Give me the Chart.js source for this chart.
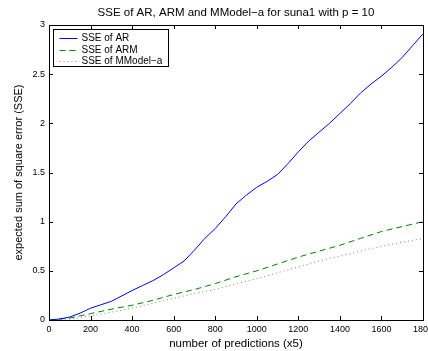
<!DOCTYPE html>
<html>
<head>
<meta charset="utf-8">
<script src="https://cdn.jsdelivr.net/npm/chart.js@4/dist/chart.umd.min.js"></script>
<style>
  html, body { margin: 0; padding: 0; background: #fff; }
  #wrap { width: 428px; height: 351px; }
</style>
</head>
<body>
<div id="wrap"><canvas id="sseChart" width="428" height="351"></canvas></div>
<script>
// number of predictions (x5)
const predFine = [0, 50, 100, 150, 200, 250, 300, 350, 400, 450, 500, 550, 600, 650, 700, 750, 800, 850, 900,
                  950, 1000, 1050, 1100, 1150, 1200, 1250, 1300, 1350, 1400, 1450, 1500, 1550, 1600, 1650, 1700, 1750, 1800];
const sseAR = [0, 0.01, 0.03, 0.07, 0.12, 0.155, 0.19, 0.245, 0.30, 0.35, 0.40, 0.46, 0.53, 0.60, 0.71, 0.83, 0.93, 1.05, 1.18,
               1.27, 1.35, 1.41, 1.48, 1.59, 1.71, 1.82, 1.91, 2.00, 2.10, 2.20, 2.31, 2.40, 2.48, 2.57, 2.67, 2.79, 2.91];

const predCoarse = [0, 100, 200, 300, 400, 500, 600, 700, 800, 900, 1000, 1100, 1200, 1300, 1400, 1500, 1600, 1700, 1800];
const sseARM = [0, 0.02, 0.065, 0.11, 0.15, 0.20, 0.26, 0.31, 0.37, 0.44, 0.50, 0.57, 0.64, 0.70, 0.76, 0.83, 0.90, 0.95, 1.00];
const sseMModel = [0, 0.01, 0.04, 0.08, 0.12, 0.17, 0.22, 0.27, 0.31, 0.37, 0.42, 0.48, 0.54, 0.60, 0.65, 0.70, 0.75, 0.79, 0.83];

const seriesLabels = ['SSE of AR', 'SSE of ARM', 'SSE of MModel\u2212a'];
const titleText = 'SSE of AR, ARM and MModel\u2212a for suna1 with p = 10';
const xTitle = 'number of predictions (x5)';
const yTitle = 'expected sum of square error (SSE)';

const FONT = '"Liberation Sans", Arial, Helvetica, sans-serif';

function toPts(xs, ys) {
    return xs.map((x, i) => ({ x: x, y: ys[i] }));
}

// matlab style box with inward ticks on every side, title and legend
const frameTicks = {
    id: 'frameTicks',
    afterDraw(chart) {
        const { ctx, chartArea: a, scales } = chart;
        ctx.save();
        ctx.strokeStyle = '#000';
        ctx.lineWidth = 1;
        ctx.strokeRect(Math.round(a.left) + 0.5, Math.round(a.top) + 0.5,
                       Math.round(a.right - a.left), Math.round(a.bottom - a.top));
        ctx.beginPath();
        const len = 4;
        scales.x.ticks.forEach(t => {
            const px = Math.round(scales.x.getPixelForValue(t.value)) + 0.5;
            ctx.moveTo(px, a.bottom); ctx.lineTo(px, a.bottom - len);
            ctx.moveTo(px, a.top); ctx.lineTo(px, a.top + len);
        });
        scales.y.ticks.forEach(t => {
            const py = Math.round(scales.y.getPixelForValue(t.value)) + 0.5;
            ctx.moveTo(a.left, py); ctx.lineTo(a.left + len, py);
            ctx.moveTo(a.right, py); ctx.lineTo(a.right - len, py);
        });
        ctx.stroke();

        // title centred over the axes box
        ctx.fillStyle = '#000';
        ctx.font = '11.5px ' + FONT;
        ctx.textAlign = 'center';
        ctx.textBaseline = 'middle';
        ctx.fillText(titleText, (a.left + a.right) / 2, 13);

        // legend box in the upper left corner
        const bx = a.left + 4.5, by = a.top + 4.5, bw = 115, bh = 37;
        ctx.fillStyle = '#fff';
        ctx.fillRect(bx, by, bw, bh);
        ctx.strokeRect(bx, by, bw, bh);
        ctx.font = '10px ' + FONT;
        ctx.textAlign = 'left';
        chart.data.datasets.forEach((ds, i) => {
            const ly = Math.round(by + 8.5 + i * 11.7) + 0.5;
            ctx.beginPath();
            ctx.setLineDash(ds.borderDash || []);
            ctx.strokeStyle = ds.borderColor;
            ctx.lineWidth = ds.borderWidth;
            ctx.moveTo(bx + 6, ly); ctx.lineTo(bx + 24, ly);
            ctx.stroke();
            ctx.setLineDash([]);
            ctx.fillStyle = '#000';
            ctx.fillText(ds.label, bx + 28, ly);
        });
        ctx.restore();
    }
};

new Chart(document.getElementById('sseChart'), {
    type: 'line',
    data: {
        datasets: [
            { label: seriesLabels[0], data: toPts(predFine, sseAR), borderColor: '#0000ff', borderWidth: 1, pointRadius: 0, tension: 0 },
            { label: seriesLabels[1], data: toPts(predCoarse, sseARM), borderColor: '#008000', borderWidth: 1, borderDash: [6, 4], pointRadius: 0, tension: 0 },
            { label: seriesLabels[2], data: toPts(predCoarse, sseMModel), borderColor: '#808080', borderWidth: 1, borderDash: [1, 3], pointRadius: 0, tension: 0 }
        ]
    },
    options: {
        responsive: false,
        animation: false,
        devicePixelRatio: 1,
        layout: { padding: { left: 0, right: 5, top: 25, bottom: 0 } },
        plugins: {
            legend: { display: false },
            tooltip: { enabled: false },
            title: { display: false }
        },
        scales: {
            x: {
                type: 'linear', min: 0, max: 1800,
                grid: { drawOnChartArea: false, drawTicks: false },
                border: { display: false },
                ticks: { stepSize: 200, color: '#000', padding: 4, maxRotation: 0, font: { family: FONT, size: 9 },
                         callback: v => String(v) },
                title: { display: true, text: xTitle, color: '#000', font: { family: FONT, size: 11.5 }, padding: { top: 5, bottom: 0 } },
                afterFit(s) { s.height = 31; s.paddingLeft = 0; s.paddingRight = 0; }
            },
            y: {
                min: 0, max: 3,
                grid: { drawOnChartArea: false, drawTicks: false },
                border: { display: false },
                ticks: { stepSize: 0.5, color: '#000', padding: 4, font: { family: FONT, size: 9 },
                         callback: v => String(v) },
                title: { display: true, text: yTitle, color: '#000', font: { family: FONT, size: 11 }, padding: { top: 12, bottom: 0 } },
                afterFit(s) { s.width = 49; s.paddingTop = 0; s.paddingBottom = 0; }
            }
        }
    },
    plugins: [frameTicks]
});
</script>
</body>
</html>
